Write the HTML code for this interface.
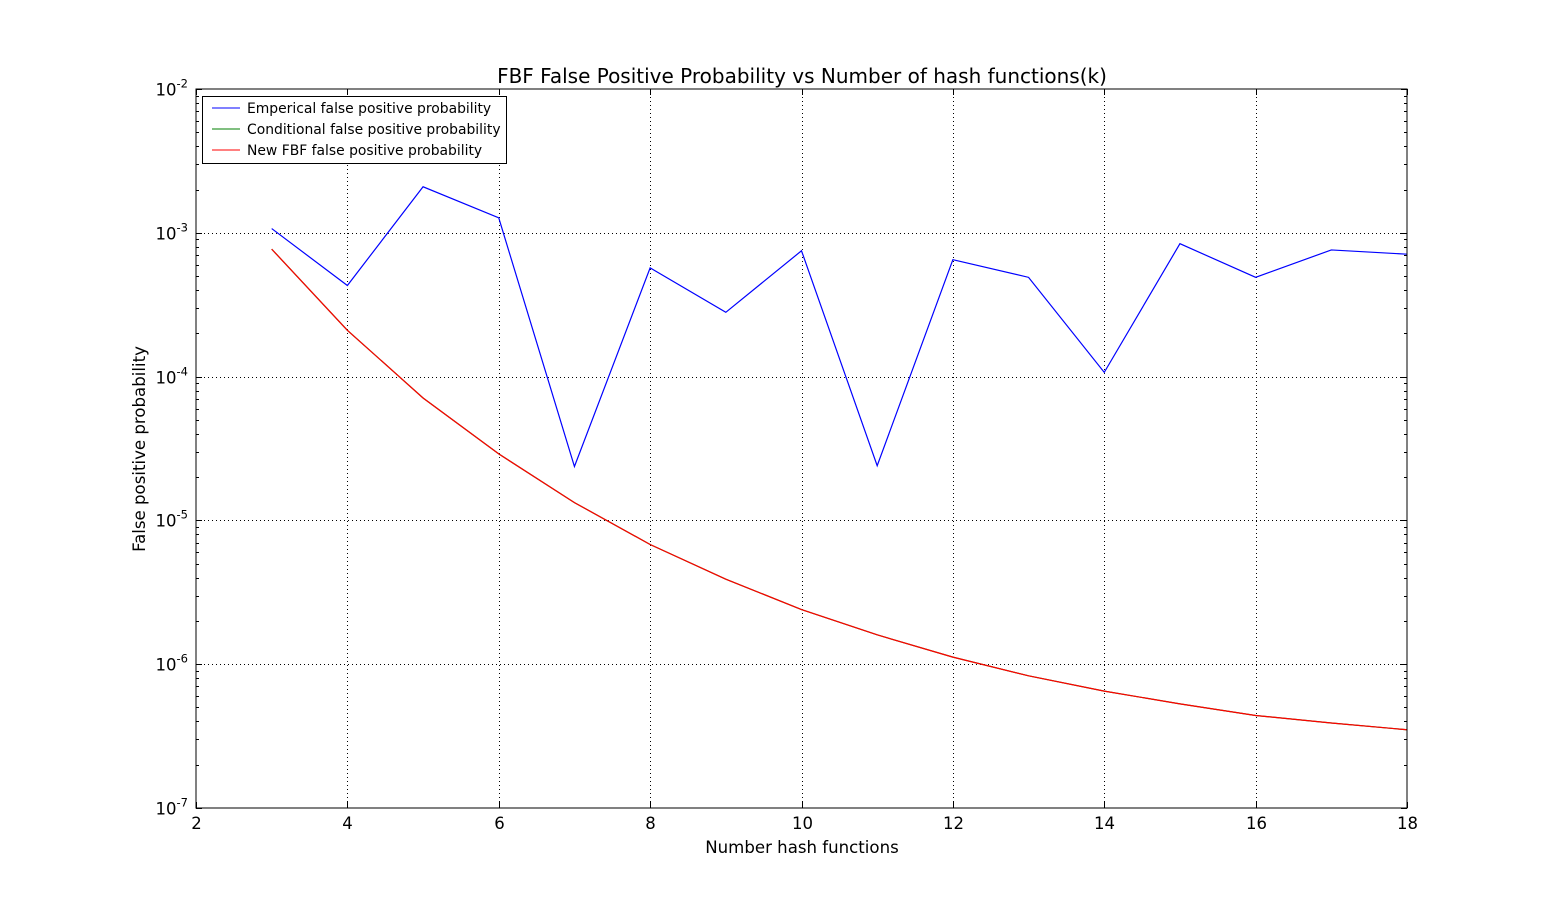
<!DOCTYPE html>
<html><head><meta charset="utf-8"><style>
html,body{margin:0;padding:0;background:#fff;}
svg{display:block;font-family:"DejaVu Sans","Liberation Sans",sans-serif;}
</style></head><body>
<svg id="chart" width="1563" height="898" viewBox="0 0 1563 898" xmlns="http://www.w3.org/2000/svg">
<rect width="1563" height="898" fill="#fff"/>
<text x="802" y="83" font-size="20" text-anchor="middle">FBF False Positive Probability vs Number of hash functions(k)</text>
<text x="802" y="853" font-size="16.6" text-anchor="middle">Number hash functions</text>
<text transform="translate(145,449) rotate(-90)" font-size="16.6" text-anchor="middle">False positive probability</text>
<g id="grid"></g><g id="ticks"></g><g id="series"></g>
<rect x="196" y="89" width="1211" height="719" fill="none" stroke="#000" stroke-width="1"/>
<g>
<rect x="202.5" y="96.5" width="304" height="67" fill="#fff" stroke="#000"/>
<line x1="212" y1="108" x2="240" y2="108" stroke="#0000ff"/>
<text x="247" y="113" font-size="13.9">Emperical false positive probability</text>
<line x1="212" y1="129" x2="240" y2="129" stroke="#007f00"/>
<text x="247" y="134" font-size="13.9">Conditional false positive probability</text>
<line x1="212" y1="150" x2="240" y2="150" stroke="#ff0000"/>
<text x="247" y="155" font-size="13.9">New FBF false positive probability</text>
</g>
</svg>
<script>
const ks=[3,4,5,6,7,8,9,10,11,12,13,14,15,16,17,18];
const empirical=[1.07e-3,4.3e-4,2.09e-3,1.27e-3,2.37e-5,5.7e-4,2.8e-4,7.5e-4,2.4e-5,6.5e-4,4.9e-4,1.07e-4,8.4e-4,4.9e-4,7.6e-4,7.1e-4];
const conditional=[7.7e-4,2.1e-4,7.1e-5,2.9e-5,1.33e-5,6.8e-6,3.9e-6,2.4e-6,1.6e-6,1.12e-6,8.3e-7,6.5e-7,5.3e-7,4.4e-7,3.9e-7,3.5e-7];
const newfbf=[7.7e-4,2.1e-4,7.1e-5,2.9e-5,1.33e-5,6.8e-6,3.9e-6,2.4e-6,1.6e-6,1.12e-6,8.3e-7,6.5e-7,5.3e-7,4.4e-7,3.9e-7,3.5e-7];
const xTicks=[2,4,6,8,10,12,14,16,18];
const yExps=[-7,-6,-5,-4,-3,-2];
const L=196,R=1407,T=89,B=808;
const xs=v=>L+(v-2)/16*(R-L);
const ys=v=>B-(Math.log10(v)+7)/5*(B-T);
const NS="http://www.w3.org/2000/svg";
function mk(tag,attrs,parent){const e=document.createElementNS(NS,tag);for(const k in attrs)e.setAttribute(k,attrs[k]);parent.appendChild(e);return e;}
const grid=document.getElementById('grid'),ticks=document.getElementById('ticks'),series=document.getElementById('series');
xTicks.forEach(v=>{const x=Math.round(xs(v))+0.5;
 if(v>2&&v<18){const g=mk('line',{x1:x,y1:T,x2:x,y2:B,stroke:'#000','stroke-dasharray':'1,3'},grid);
 
 }
 mk('line',{x1:x,y1:B,x2:x,y2:B-6,stroke:'#000'},ticks);
 mk('line',{x1:x,y1:T,x2:x,y2:T+6,stroke:'#000'},ticks);
 const t=mk('text',{x:x,y:B+21,'font-size':16.5,'text-anchor':'middle'},ticks);t.textContent=v;
 
 
});
yExps.forEach(e=>{const y=Math.round(ys(Math.pow(10,e)))+0.5;
 if(e>-7&&e<-2){const g=mk('line',{x1:L,y1:y,x2:R,y2:y,stroke:'#000','stroke-dasharray':'1,3'},grid);
 
 }
 mk('line',{x1:L,y1:y,x2:L+6,y2:y,stroke:'#000'},ticks);
 mk('line',{x1:R,y1:y,x2:R-6,y2:y,stroke:'#000'},ticks);
 const t=mk('text',{x:L-8,y:y+6,'font-size':16.5,'text-anchor':'end'},ticks);
 
 
 const b=mk('tspan',{},t);b.textContent='10';
 const s=mk('tspan',{dy:-8,'font-size':11.5},t);s.textContent=String(e);
 if(e<-2)for(let m=2;m<=9;m++){const yy=Math.round(ys(m*Math.pow(10,e)))+0.5;
  mk('line',{x1:L,y1:yy,x2:L+3,y2:yy,stroke:'#000'},ticks);
  mk('line',{x1:R,y1:yy,x2:R-3,y2:yy,stroke:'#000'},ticks);}
});
function line(vals,color,name){const p=mk('polyline',{points:vals.map((v,i)=>xs(ks[i])+','+ys(v)).join(' '),fill:'none',stroke:color,'stroke-width':1.2},series);
 
 }
line(empirical,'#0000ff','empirical-line');
line(conditional,'#007f00','conditional-line');
line(newfbf,'#ff0000','new-fbf-line');
</script>
</body></html>
